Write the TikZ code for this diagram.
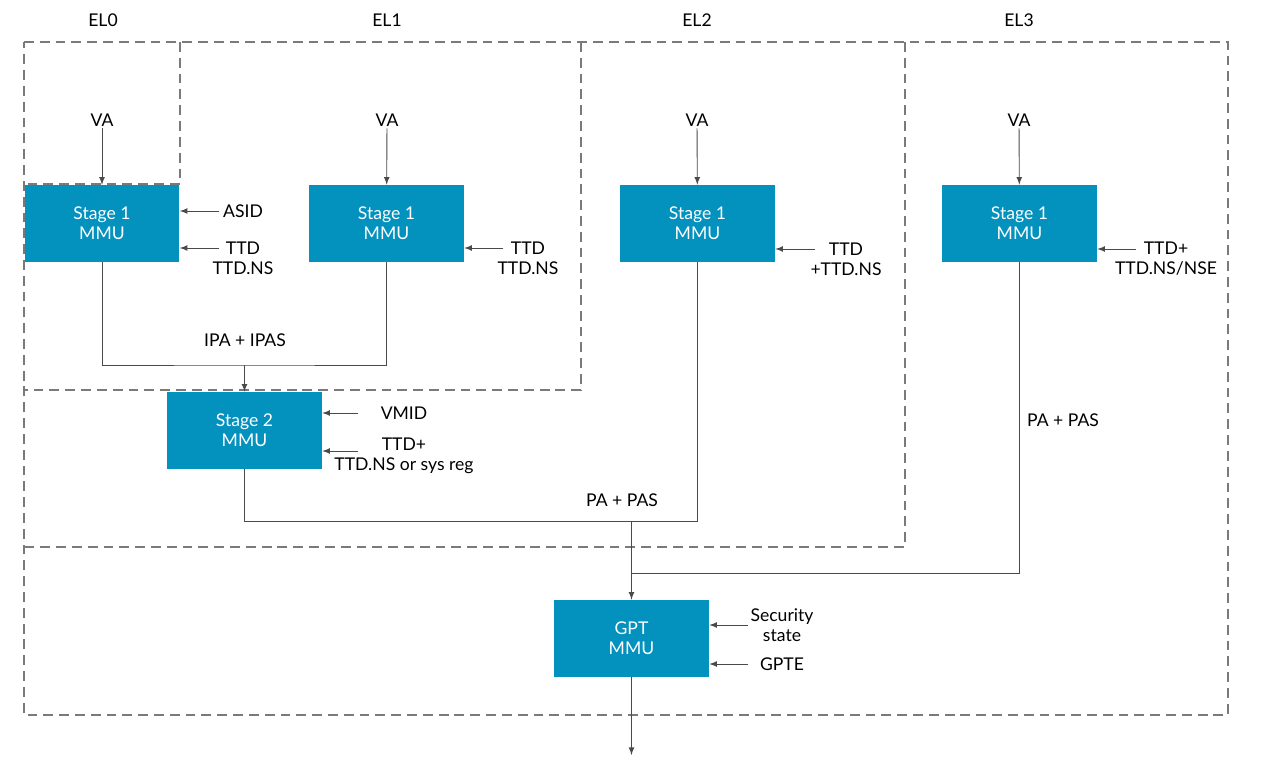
\documentclass[tikz,border=0pt]{standalone}
\usepackage{fontspec}
\setmainfont{Lato}
\definecolor{mmublue}{HTML}{0391BE}
\definecolor{framegray}{HTML}{7A7A7A}
\definecolor{wiregray}{HTML}{4A4A4A}
\tikzset{
  mmu/.style={fill=mmublue, text=white, align=center, minimum width=3.1cm, minimum height=1.54cm, inner sep=0pt},
  frame/.style={framegray, line width=0.6pt, dash pattern=on 5.6pt off 3.4pt},
  wire/.style={wiregray, line width=0.5pt},
  lbl/.style={align=center, inner sep=1pt}
}
\begin{document}
\begin{tikzpicture}[x=0.02cm, y=-0.02cm, font=\fontsize{10}{11.4}\selectfont]
\useasboundingbox (0,0) rectangle (1261,765);
\tikzset{>=latex}
\draw [frame] (24,42) -- (1228,42) -- (1228,715) -- (24,715) -- cycle;
\draw [frame] (905,42) -- (905,547) -- (24,547);
\draw [frame] (581,42) -- (581,390) -- (24,390);
\draw [frame] (180,42) -- (180,184) -- (24,184);
\node (el0) at (103,20) {EL0};
\node (el1) at (387,20) {EL1};
\node (el2) at (697,20) {EL2};
\node (el3) at (1019,20) {EL3};
\node [mmu] (s1a) at (102,223.5) {Stage 1\\MMU};
\node [mmu] (s1b) at (386.5,223.5) {Stage 1\\MMU};
\node [mmu] (s1c) at (697.5,223.5) {Stage 1\\MMU};
\node [mmu] (s1d) at (1019.5,223.5) {Stage 1\\MMU};
\node [mmu] (s2) at (244.5,430.5) {Stage 2\\MMU};
\node [mmu] (gpt) at (631.5,638.5) {GPT\\MMU};
\node [lbl] (va0) at (102,120) {VA};
\node [lbl] (va1) at (387,120) {VA};
\node [lbl] (va2) at (697,120) {VA};
\node [lbl] (va3) at (1019,120) {VA};
\draw [wire,->] (va0) -- (s1a);
\draw [wire,->] (va1) -- (s1b);
\draw [wire,->] (va2) -- (s1c);
\draw [wire,->] (va3) -- (s1d);
\node [lbl] (asid) at (243,211) {ASID};
\node [lbl] (ttd0) at (243,258) {TTD\\TTD.NS};
\node [lbl] (ttd1) at (528,258) {TTD\\TTD.NS};
\node [lbl] (ttd2) at (846,259) {TTD\\+TTD.NS};
\node [lbl] (ttd3) at (1166,259) {TTD+\\TTD.NS/NSE};
\node [lbl] (vmid) at (404,413) {VMID};
\node [lbl] (ttds2) at (404,456) {TTD+\\TTD.NS or sys reg};
\node [lbl] (sec) at (782,625) {Security\\state};
\node [lbl] (gpte) at (782,664) {GPTE};
\coordinate (in0a) at (219,211);
\coordinate (in0b) at (219,248);
\coordinate (in1) at (503,248);
\coordinate (in2) at (815,249);
\coordinate (in3) at (1136,249);
\coordinate (in4a) at (358,413);
\coordinate (in4b) at (358,451);
\coordinate (in5a) at (748,625);
\coordinate (in5b) at (748,664);
\draw [wire,->] (in0a) -- (in0a -| s1a.east);
\draw [wire,->] (in0b) -- (in0b -| s1a.east);
\draw [wire,->] (in1) -- (in1 -| s1b.east);
\draw [wire,->] (in2) -- (in2 -| s1c.east);
\draw [wire,->] (in3) -- (in3 -| s1d.east);
\draw [wire,->] (in4a) -- (in4a -| s2.east);
\draw [wire,->] (in4b) -- (in4b -| s2.east);
\draw [wire,->] (in5a) -- (in5a -| gpt.east);
\draw [wire,->] (in5b) -- (in5b -| gpt.east);
\coordinate (j1) at (244.5,365);
\coordinate (j2) at (631.5,521);
\coordinate (j3) at (631.5,573);
\coordinate (out) at (631.5,755);
\draw [wire] (s1a) |- (j1) -| (s1b);
\draw [wire,->] (j1) -- (s2);
\draw [wire] (s2) |- (j2) -| (s1c);
\draw [wire] (s1d) |- (j3);
\draw [wire,->] (j2) -- (gpt);
\draw [wire,->] (gpt) -- (out);
\node [lbl] (ipa) at (245,340) {IPA + IPAS};
\node [lbl] (pa1) at (622,500) {PA + PAS};
\node [lbl] (pa2) at (1063,420) {PA + PAS};
\end{tikzpicture}
\end{document}
